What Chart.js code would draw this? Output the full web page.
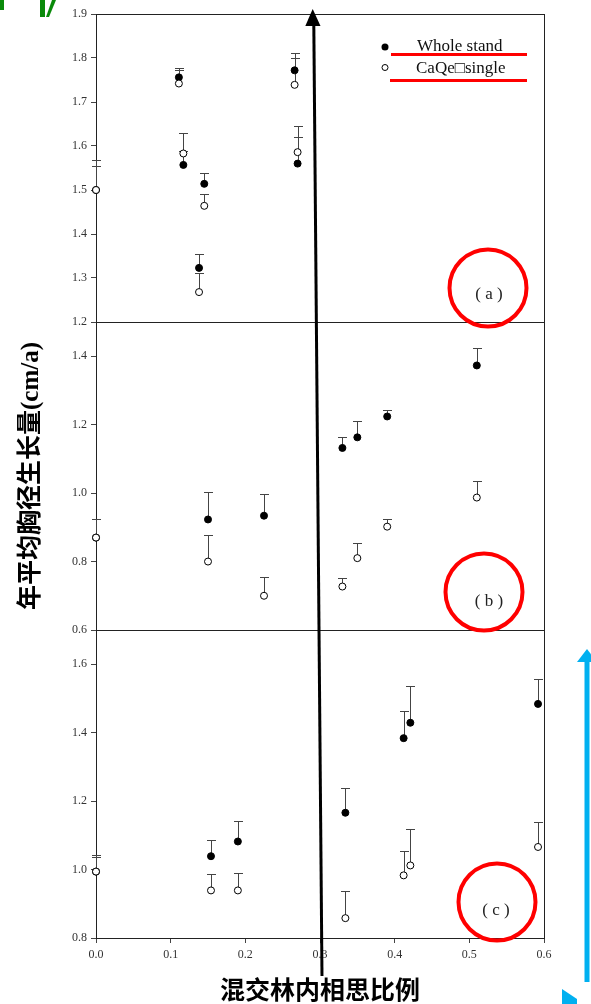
<!DOCTYPE html>
<html>
<head>
<meta charset="utf-8">
<script src="https://cdn.jsdelivr.net/npm/chart.js@4.4.1/dist/chart.umd.min.js"></script>
<style>
  html, body { margin: 0; padding: 0; background: #fff; }
</style>
</head>
<body>
<canvas id="chart" width="591" height="1004"></canvas>
<script>
// ── data ──
const xTicks = [0, 0.1, 0.2, 0.3, 0.4, 0.5, 0.6];
const aTicks = [1.2, 1.3, 1.4, 1.5, 1.6, 1.7, 1.8, 1.9];
const bTicks = [0.6, 0.8, 1.0, 1.2, 1.4];
const cTicks = [0.8, 1.0, 1.2, 1.4, 1.6];

// panel (a)
const aX = [0, 0.111, 0.117, 0.138, 0.145, 0.266, 0.270];
const aWhole = [1.50, 1.756, 1.557, 1.323, 1.514, 1.772, 1.560];
const aWholeSd = [0.055, 0.022, 0.032, 0.031, 0.024, 0.040, 0.060];
const aSingle = [1.50, 1.742, 1.583, 1.268, 1.464, 1.739, 1.586];
const aSingleSd = [0.068, 0.031, 0.046, 0.043, 0.028, 0.060, 0.059];

// panel (b)
const bX = [0, 0.150, 0.225, 0.330, 0.350, 0.390, 0.510];
const bWhole = [0.87, 0.923, 0.934, 1.132, 1.163, 1.224, 1.373];
const bWholeSd = [0.053, 0.080, 0.062, 0.031, 0.049, 0.018, 0.050];
const bSingle = [0.87, 0.80, 0.70, 0.727, 0.81, 0.902, 0.987];
const bSingleSd = [0.053, 0.079, 0.056, 0.026, 0.045, 0.023, 0.049];

// panel (c)
const cX = [0, 0.154, 0.190, 0.334, 0.412, 0.421, 0.592];
const cWhole = [0.994, 1.039, 1.082, 1.166, 1.384, 1.429, 1.484];
const cWholeSd = [0.042, 0.046, 0.060, 0.073, 0.079, 0.108, 0.073];
const cSingle = [0.994, 0.939, 0.939, 0.858, 0.983, 1.012, 1.066];
const cSingleSd = [0.049, 0.049, 0.052, 0.078, 0.072, 0.106, 0.073];

const seriesNames = ['Whole stand', 'CaQe\u25A1single'];
const panelLabels = ['( a )', '( b )', '( c )'];

const SERIF = '"Liberation Serif", "Times New Roman", serif';
const CJK = '"Liberation Serif", "Noto Sans CJK SC", serif';
Chart.defaults.font.family = SERIF;

function pair(xs, whole, wholeSd, single, singleSd, axis) {
  const pts = vals => xs.map((x, i) => ({ x, y: vals[i] }));
  return [
    { label: seriesNames[0], data: pts(whole), sd: wholeSd, yAxisID: axis, order: 1, clip: false,
      pointRadius: 3.5, pointBackgroundColor: '#000', pointBorderColor: '#000', pointBorderWidth: 1 },
    { label: seriesNames[1], data: pts(single), sd: singleSd, yAxisID: axis, order: 0, clip: false,
      pointRadius: 3.5, pointBackgroundColor: '#fff', pointBorderColor: '#000', pointBorderWidth: 1 }
  ];
}

function yScale(min, max, ticks, title) {
  return {
    type: 'linear', position: 'left', stack: 'panels', stackWeight: 1,
    min, max,
    afterBuildTicks: s => { s.ticks = ticks.map(v => ({ value: v })); },
    afterFit: s => { s.width = 96; },
    grid: { drawOnChartArea: false, tickLength: 5, color: '#444' },
    border: { color: '#444' },
    ticks: { padding: 4, color: '#333', font: { size: 12 }, callback: v => v.toFixed(1) },
    title: title ? {
      display: true, text: title, color: '#000',
      font: { family: CJK, size: 25, weight: 'bold' }, padding: { top: 17, bottom: 0 }
    } : { display: false }
  };
}

// error bars: vertical line up to mean + sd with a cap
const errorBars = {
  id: 'errorBars',
  beforeDatasetsDraw(chart) {
    const ctx = chart.ctx;
    ctx.save();
    ctx.strokeStyle = '#444';
    ctx.lineWidth = 1;
    chart.data.datasets.forEach((ds, i) => {
      const ys = chart.scales[ds.yAxisID];
      chart.getDatasetMeta(i).data.forEach((pt, j) => {
        const top = Math.round(ys.getPixelForValue(ds.data[j].y + ds.sd[j])) + 0.5;
        const x = Math.round(pt.x) + 0.5;
        ctx.beginPath();
        ctx.moveTo(x, pt.y);
        ctx.lineTo(x, top);
        ctx.moveTo(x - 4.5, top);
        ctx.lineTo(x + 4.5, top);
        ctx.stroke();
      });
    });
    ctx.restore();
  }
};

// box round each panel
const panelFrames = {
  id: 'panelFrames',
  beforeDatasetsDraw(chart) {
    const { ctx, chartArea } = chart;
    ctx.save();
    ctx.strokeStyle = '#222';
    ctx.lineWidth = 1;
    ['ya', 'yb', 'yc'].forEach(id => {
      const s = chart.scales[id];
      ctx.strokeRect(Math.round(chartArea.left) + 0.5, Math.round(s.top) + 0.5,
        Math.round(chartArea.right - chartArea.left), Math.round(s.bottom - s.top));
    });
    ctx.restore();
  }
};

// legend, panel tags and the marks drawn over the figure
const overlay = {
  id: 'overlay',
  afterDraw(chart) {
    const ctx = chart.ctx;
    ctx.save();

    // legend
    ctx.fillStyle = '#000';
    ctx.strokeStyle = '#000';
    ctx.lineWidth = 1;
    ctx.beginPath(); ctx.arc(385, 47, 3.5, 0, Math.PI * 2); ctx.fill();
    ctx.beginPath(); ctx.arc(385, 67.5, 3, 0, Math.PI * 2);
    ctx.fillStyle = '#fff'; ctx.fill(); ctx.stroke();
    ctx.fillStyle = '#111';
    ctx.font = '17px ' + SERIF;
    ctx.textBaseline = 'middle';
    ctx.textAlign = 'left';
    ctx.fillText(seriesNames[0], 417, 47);
    ctx.fillText(seriesNames[1], 416, 69);

    ctx.strokeStyle = '#f00';
    ctx.lineWidth = 3;
    ctx.beginPath();
    ctx.moveTo(391, 54.5); ctx.lineTo(527, 54.5);
    ctx.moveTo(390, 80.5); ctx.lineTo(527, 80.5);
    ctx.stroke();

    // panel tags with red rings
    const tags = [[489, 295, 488, 288], [489, 602, 484, 592], [496, 911, 497, 902]];
    ctx.font = '17px ' + SERIF;
    ctx.textAlign = 'center';
    tags.forEach((t, i) => {
      ctx.fillStyle = '#222';
      ctx.fillText(panelLabels[i], t[0], t[1]);
      ctx.strokeStyle = '#f00';
      ctx.lineWidth = 4;
      ctx.beginPath(); ctx.arc(t[2], t[3], 38.5, 0, Math.PI * 2); ctx.stroke();
    });

    // black arrow
    ctx.strokeStyle = '#000';
    ctx.fillStyle = '#000';
    ctx.lineWidth = 3;
    ctx.beginPath(); ctx.moveTo(322, 976); ctx.lineTo(313.8, 24); ctx.stroke();
    ctx.beginPath(); ctx.moveTo(312.7, 9); ctx.lineTo(320.5, 26); ctx.lineTo(305.3, 26); ctx.closePath(); ctx.fill();

    // blue arrow
    ctx.fillStyle = '#00b0f0';
    ctx.fillRect(584.5, 658, 5, 324);
    ctx.beginPath(); ctx.moveTo(587, 649); ctx.lineTo(597, 662); ctx.lineTo(577, 662); ctx.closePath(); ctx.fill();
    ctx.beginPath(); ctx.moveTo(562, 989); ctx.lineTo(577, 999); ctx.lineTo(577, 1004); ctx.lineTo(562, 1004); ctx.closePath(); ctx.fill();

    // green mark, top left
    ctx.fillStyle = '#0a8a0a';
    ctx.fillRect(40, 0, 5, 17);
    ctx.fillRect(0, 0, 4, 10);
    ctx.beginPath(); ctx.moveTo(52, 0); ctx.lineTo(56, 0); ctx.lineTo(49, 17); ctx.lineTo(46, 17); ctx.closePath(); ctx.fill();

    ctx.restore();
  }
};

new Chart(document.getElementById('chart'), {
  type: 'scatter',
  data: {
    datasets: [
      ...pair(aX, aWhole, aWholeSd, aSingle, aSingleSd, 'ya'),
      ...pair(bX, bWhole, bWholeSd, bSingle, bSingleSd, 'yb'),
      ...pair(cX, cWhole, cWholeSd, cSingle, cSingleSd, 'yc')
    ]
  },
  options: {
    responsive: false,
    animation: false,
    layout: { padding: { top: 14, right: 47, left: 0, bottom: 0 } },
    plugins: { legend: { display: false }, tooltip: { enabled: false } },
    scales: {
      x: {
        type: 'linear', position: 'bottom', min: 0, max: 0.6,
        afterBuildTicks: s => { s.ticks = xTicks.map(v => ({ value: v })); },
        afterFit: s => { s.height = 66; },
        grid: { drawOnChartArea: false, tickLength: 5, color: '#444' },
        border: { color: '#444' },
        ticks: { padding: 5, color: '#333', font: { size: 12 }, maxRotation: 0, callback: v => v.toFixed(1) },
        title: {
          display: true, text: '混交林内相思比例', color: '#000',
          font: { family: '"Noto Sans CJK SC", sans-serif', size: 25, weight: 'bold' },
          padding: { top: 0, bottom: 0 }
        }
      },
      yc: yScale(0.8, 1.7, cTicks),
      yb: yScale(0.6, 1.5, bTicks, '年平均胸径生长量(cm/a)'),
      ya: yScale(1.2, 1.9, aTicks)
    }
  },
  plugins: [panelFrames, errorBars, overlay]
});
</script>
</body>
</html>
